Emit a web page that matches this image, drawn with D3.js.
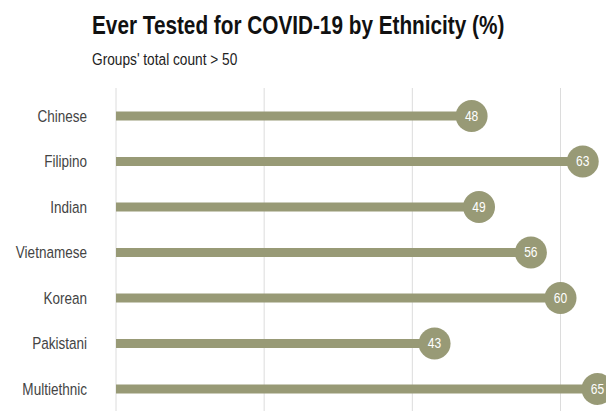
<!DOCTYPE html>
<html>
<head>
<meta charset="utf-8">
<script src="https://cdn.jsdelivr.net/npm/d3@7/dist/d3.min.js"></script>
<style>
  html, body { margin: 0; padding: 0; background: #fff; }
  svg { display: block; font-family: "Liberation Sans", Arial, sans-serif; }
</style>
</head>
<body>
<svg id="chart" width="606" height="411"></svg>
<script>
const categories = ["Chinese", "Filipino", "Indian", "Vietnamese", "Korean", "Pakistani", "Multiethnic"];
const values = [48, 63, 49, 56, 60, 43, 65];
const gridTicks = [0, 20, 40, 60];
const titleText = "Ever Tested for COVID-19 by Ethnicity (%)";
const subtitleText = "Groups' total count > 50";

const W = 606, H = 411;
const svg = d3.select("#chart");
const color = "#989a76";
const NARROW = 0.82;

const x = d3.scaleLinear().domain([0, 60]).range([116, 560.5]);
const y = d3.scalePoint().domain(categories).range([116, 389]);

// gridlines
svg.append("g").selectAll("line").data(gridTicks).join("line")
  .attr("x1", d => x(d)).attr("x2", d => x(d))
  .attr("y1", 88).attr("y2", H)
  .attr("stroke", "#dcdcdc").attr("stroke-width", 1);

// title
svg.append("text").attr("transform", `translate(92,33.5) scale(0.83,1)`)
  .attr("font-size", 25).attr("font-weight", "bold").attr("fill", "#111")
  .text(titleText);
svg.append("text").attr("transform", `translate(92,65) scale(${NARROW},1)`)
  .attr("font-size", 16.7).attr("fill", "#222")
  .text(subtitleText);

// category labels
svg.append("g").selectAll("text").data(categories).join("text")
  .attr("transform", d => `translate(87,${y(d)}) scale(${NARROW},1)`)
  .attr("dy", "0.35em")
  .attr("text-anchor", "end").attr("font-size", 16.5).attr("fill", "#444")
  .text(d => d);

const data = categories.map((c, i) => ({ c, v: values[i] }));

// stems
svg.append("g").selectAll("line").data(data).join("line")
  .attr("x1", x(0)).attr("x2", d => x(d.v))
  .attr("y1", d => y(d.c)).attr("y2", d => y(d.c))
  .attr("stroke", color).attr("stroke-width", 9);

// dots
svg.append("g").selectAll("circle").data(data).join("circle")
  .attr("cx", d => x(d.v)).attr("cy", d => y(d.c)).attr("r", 16)
  .attr("fill", color);

svg.append("g").selectAll("text").data(data).join("text")
  .attr("transform", d => `translate(${x(d.v)},${y(d.c)}) scale(0.86,1)`)
  .attr("dy", "0.35em")
  .attr("text-anchor", "middle").attr("font-size", 14).attr("fill", "#fff")
  .text(d => d.v);
</script>
</body>
</html>
